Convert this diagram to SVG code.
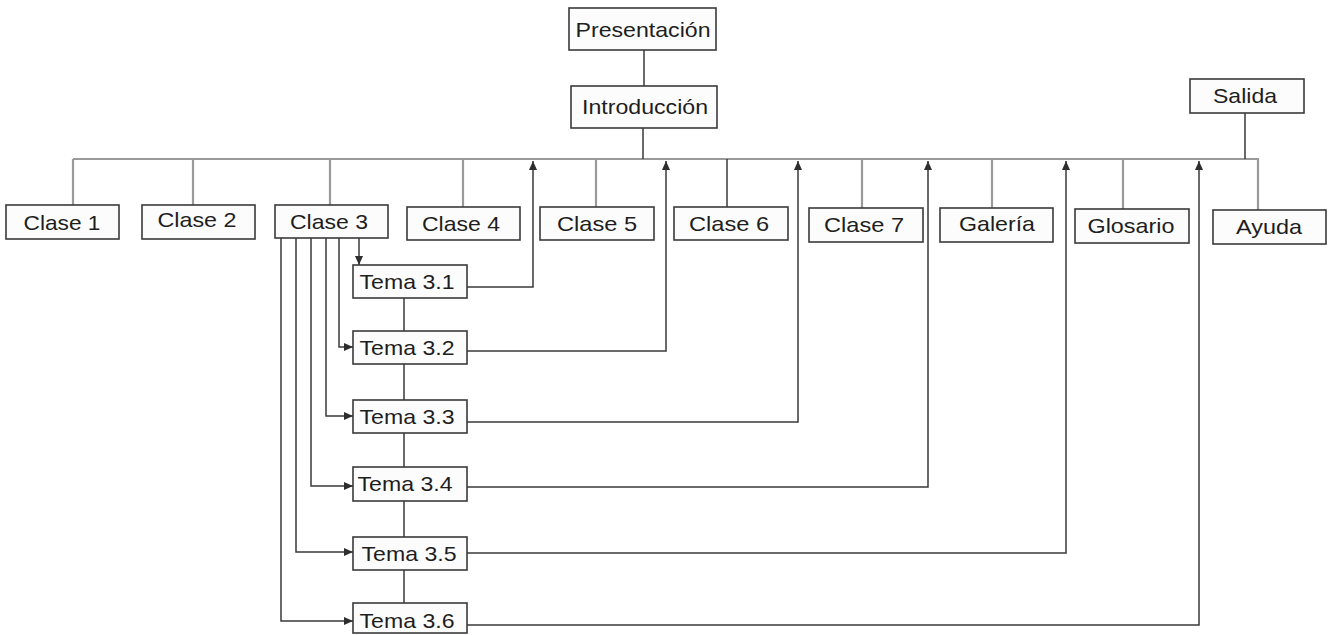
<svg xmlns="http://www.w3.org/2000/svg" width="1336" height="635" viewBox="0 0 1336 635">
  <style>
    .box { fill: #fcfcfc; stroke: #3a3a3a; stroke-width: 1.6; }
    .lbl { font-family: "Liberation Sans", Arial, sans-serif; font-size: 21px; fill: #1e1e1e; text-anchor: middle; }
    .gray { stroke: #9a9a9a; stroke-width: 2.2; fill: none; }
    .dark { stroke: #3a3a3a; stroke-width: 1.5; fill: none; }
  </style>
  <defs>
    <marker id="arrow" markerWidth="9" markerHeight="9" refX="9" refY="4.5" orient="auto" markerUnits="userSpaceOnUse">
      <path d="M0,0.5 L9,4.5 L0,8.5 Z" fill="#2e2e2e"/>
    </marker>
  </defs>
  <rect width="1336" height="635" fill="#ffffff"/>

  <!-- connectors -->
  <g id="connectors">
    <!-- main menu bar -->
    <path class="gray" d="M73,159 H1258 V210"/>
    <path class="gray" d="M73,159 V205 M193,159 V205 M330,159 V205 M463,159 V207 M596,159 V207 M862,159 V208 M992,159 V208 M1123,159 V209"/>
    <path class="dark" d="M727,159 V207"/>
    <!-- top chain -->
    <path class="dark" d="M644,50 V86 M643,128 V159 M1245,113 V159"/>
    <!-- Clase 3 to its topics -->
    <path class="dark" d="M359,238 V265" marker-end="url(#arrow)"/>
    <path class="dark" d="M339,238 V347 H353" marker-end="url(#arrow)"/>
    <path class="dark" d="M326,238 V416 H353" marker-end="url(#arrow)"/>
    <path class="dark" d="M311,238 V486 H353" marker-end="url(#arrow)"/>
    <path class="dark" d="M296,238 V552 H353" marker-end="url(#arrow)"/>
    <path class="dark" d="M281,238 V621 H353" marker-end="url(#arrow)"/>
    <!-- topic chain -->
    <path class="dark" d="M404,298 V331 M404,364 V400 M404,433 V467 M404,501 V537 M404,570 V603"/>
    <!-- topics back to the menu bar -->
    <path class="dark" d="M467,287 H533 V161" marker-end="url(#arrow)"/>
    <path class="dark" d="M467,351 H666 V161" marker-end="url(#arrow)"/>
    <path class="dark" d="M467,422 H798 V161" marker-end="url(#arrow)"/>
    <path class="dark" d="M467,487 H928 V161" marker-end="url(#arrow)"/>
    <path class="dark" d="M467,553 H1066 V161" marker-end="url(#arrow)"/>
    <path class="dark" d="M467,625 H1199 V161" marker-end="url(#arrow)"/>
  </g>

  <g id="presentacion"><rect class="box" x="569" y="8" width="147" height="42"/><text class="lbl" x="643" y="37" textLength="135" lengthAdjust="spacingAndGlyphs">Presentación</text></g>
  <g id="introduccion"><rect class="box" x="571" y="86" width="146" height="42"/><text class="lbl" x="645" y="114" textLength="126" lengthAdjust="spacingAndGlyphs">Introducción</text></g>
  <g id="salida"><rect class="box" x="1190" y="79" width="114" height="34"/><text class="lbl" x="1245" y="103" textLength="64" lengthAdjust="spacingAndGlyphs">Salida</text></g>

  <g id="clase1"><rect class="box" x="6" y="205" width="113" height="34"/><text class="lbl" x="62" y="230" textLength="77" lengthAdjust="spacingAndGlyphs">Clase 1</text></g>
  <g id="clase2"><rect class="box" x="142" y="205" width="113" height="34"/><text class="lbl" x="197" y="227" textLength="79" lengthAdjust="spacingAndGlyphs">Clase 2</text></g>
  <g id="clase3"><rect class="box" x="275" y="205" width="113" height="33"/><text class="lbl" x="329" y="229" textLength="78" lengthAdjust="spacingAndGlyphs">Clase 3</text></g>
  <g id="clase4"><rect class="box" x="407" y="207" width="113" height="33"/><text class="lbl" x="461" y="231" textLength="78" lengthAdjust="spacingAndGlyphs">Clase 4</text></g>
  <g id="clase5"><rect class="box" x="540" y="207" width="114" height="33"/><text class="lbl" x="597" y="231" textLength="80" lengthAdjust="spacingAndGlyphs">Clase 5</text></g>
  <g id="clase6"><rect class="box" x="674" y="207" width="114" height="33"/><text class="lbl" x="729" y="231" textLength="80" lengthAdjust="spacingAndGlyphs">Clase 6</text></g>
  <g id="clase7"><rect class="box" x="809" y="208" width="114" height="34"/><text class="lbl" x="864" y="232" textLength="80" lengthAdjust="spacingAndGlyphs">Clase 7</text></g>
  <g id="galeria"><rect class="box" x="940" y="208" width="113" height="34"/><text class="lbl" x="997" y="231" textLength="76" lengthAdjust="spacingAndGlyphs">Galería</text></g>
  <g id="glosario"><rect class="box" x="1075" y="209" width="114" height="34"/><text class="lbl" x="1131" y="233" textLength="87" lengthAdjust="spacingAndGlyphs">Glosario</text></g>
  <g id="ayuda"><rect class="box" x="1213" y="210" width="113" height="34"/><text class="lbl" x="1269" y="234" textLength="66" lengthAdjust="spacingAndGlyphs">Ayuda</text></g>

  <g id="tema31"><rect class="box" x="353" y="265" width="114" height="33"/><text class="lbl" x="407" y="289" textLength="95" lengthAdjust="spacingAndGlyphs">Tema 3.1</text></g>
  <g id="tema32"><rect class="box" x="353" y="331" width="114" height="33"/><text class="lbl" x="407" y="355" textLength="95" lengthAdjust="spacingAndGlyphs">Tema 3.2</text></g>
  <g id="tema33"><rect class="box" x="353" y="400" width="114" height="33"/><text class="lbl" x="407" y="424" textLength="95" lengthAdjust="spacingAndGlyphs">Tema 3.3</text></g>
  <g id="tema34"><rect class="box" x="353" y="467" width="114" height="34"/><text class="lbl" x="405" y="491" textLength="95" lengthAdjust="spacingAndGlyphs">Tema 3.4</text></g>
  <g id="tema35"><rect class="box" x="353" y="537" width="114" height="33"/><text class="lbl" x="409" y="561" textLength="95" lengthAdjust="spacingAndGlyphs">Tema 3.5</text></g>
  <g id="tema36"><rect class="box" x="353" y="603" width="114" height="30"/><text class="lbl" x="407" y="628" textLength="95" lengthAdjust="spacingAndGlyphs">Tema 3.6</text></g>
</svg>
